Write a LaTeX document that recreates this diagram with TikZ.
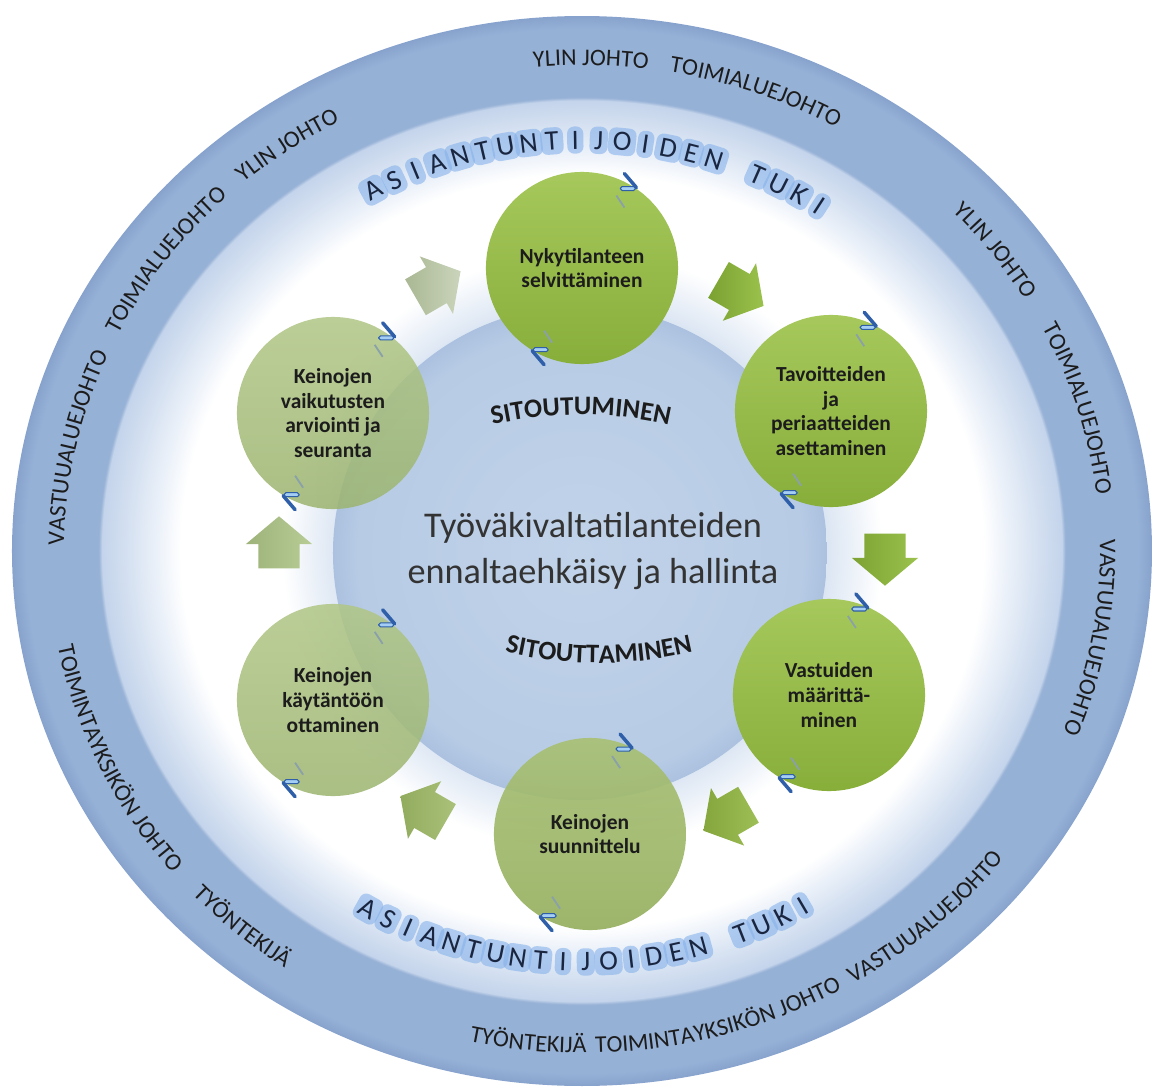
\documentclass[tikz,border=0pt]{standalone}
\usepackage{fontspec}
\setmainfont{Carlito}
\usetikzlibrary{shapes.arrows,decorations.text}

\definecolor{ringblue}{HTML}{96B1D6}
\definecolor{ringedge}{HTML}{87A3CD}
\definecolor{bandlight}{HTML}{C4D4EB}
\definecolor{bandmid}{HTML}{D8E3F2}
\definecolor{bandpale}{HTML}{EEF3FA}
\definecolor{halo}{HTML}{DCE6F3}
\definecolor{discin}{HTML}{C1D3E9}
\definecolor{discout}{HTML}{B7CBE5}
\definecolor{discrim}{HTML}{ABC1DF}
\definecolor{leafhi}{HTML}{A6C85C}
\definecolor{leaflo}{HTML}{88AE3A}
\definecolor{midhi}{HTML}{A8C072}
\definecolor{midlo}{HTML}{93AE5C}
\definecolor{fadehi}{HTML}{B0C685}
\definecolor{fadelo}{HTML}{9CB46F}
\definecolor{darktext}{HTML}{1C1C1C}
\definecolor{tukitext}{HTML}{1A2640}
\definecolor{tukiglow}{HTML}{86B1EA}
\definecolor{handledark}{HTML}{2F5FA8}
\definecolor{handlelight}{HTML}{A4CEF4}
\definecolor{handlegray}{HTML}{8AA0AA}
\definecolor{arrowahi}{HTML}{CAD4BB}
\definecolor{arrowalo}{HTML}{AAB894}
\definecolor{arrowbhi}{HTML}{9AC24C}
\definecolor{arrowblo}{HTML}{7BA131}
\definecolor{arrowchi}{HTML}{9AC24C}
\definecolor{arrowclo}{HTML}{7DA233}
\definecolor{arrowdhi}{HTML}{9EBE56}
\definecolor{arrowdlo}{HTML}{84A63C}
\definecolor{arrowehi}{HTML}{AAC179}
\definecolor{arrowelo}{HTML}{92AC5E}
\definecolor{arrowfhi}{HTML}{B8CC95}
\definecolor{arrowflo}{HTML}{9DB37A}

\newcommand\ringfont{\fontsize{6.8pt}{8pt}\selectfont}
\newcommand\stepfont{\fontsize{6.1pt}{7pt}\selectfont\bfseries}
\newcommand\tukifont{\fontsize{8pt}{9pt}\selectfont}
\newcommand\sitfont{\fontsize{7.6pt}{9pt}\selectfont\bfseries}

\pgfdeclareradialshading{ringshade}{\pgfpoint{0bp}{0bp}}{color(0bp)=(white); color(17.6bp)=(white); color(18.5bp)=(bandpale); color(19.75bp)=(bandmid); color(21.05bp)=(bandlight); color(21.2bp)=(ringblue); color(24.4bp)=(ringblue); color(25bp)=(ringedge); color(50bp)=(ringedge)}
\pgfdeclareradialshading{haloshade}{\pgfpoint{0bp}{0bp}}{color(0bp)=(halo); color(20.5bp)=(halo); color(25bp)=(white); color(50bp)=(white)}
\pgfdeclareradialshading{discshade}{\pgfpoint{0bp}{0bp}}{color(0bp)=(discin); color(22.5bp)=(discout); color(25bp)=(discrim); color(50bp)=(discrim)}

\tikzset{
  stepcircle/.style={circle, minimum size=1.92cm, inner sep=0pt, align=center,
    font=\stepfont, text=darktext, top color=leafhi, bottom color=leaflo},
  fadedcircle/.style={stepcircle, top color=fadehi, bottom color=fadelo,
    fill opacity=0.85, text opacity=1},
  cyclearrow/.style={single arrow, single arrow head extend=0.125cm,
    single arrow tip angle=100, minimum height=0.52cm, inner xsep=0pt, inner ysep=0.2cm},
  tukiletter/.style={font=\tukifont, text=tukitext, fill=tukiglow, fill opacity=0.6,
    text opacity=1, rounded corners=2pt, inner sep=1.3pt},
  ringlabel/.style={decorate, decoration={text along path, text align=center,
    text color=darktext, text={|\ringfont|#1}}},
  archead/.style={decorate, decoration={text along path, text align=center,
    text color=darktext, text={|\sitfont|#1}}},
  pics/rothandle/.style={code={
    \draw[handlegray, line width=0.5pt] (-11,-13) -- (-3,-25);
    \draw[handledark, line width=1pt, line cap=round] (-3,9) -- (9,-5);
    \draw[handledark, fill=handlelight, line width=0.3pt, rounded corners=0.5pt] (-7,-8) rectangle (8,-4);
  }}
}

\begin{document}
\begin{tikzpicture}[x=0.01cm, y=0.01cm]
    \useasboundingbox (-582,-539) rectangle (577,551);

    \shade[shading=ringshade] (0,0) ellipse[x radius=570, y radius=535];
    \shade[shading=haloshade] (0,0) circle[radius=300];
    \shade[shading=discshade] (-2,-2) circle[radius=247];

    \node[stepcircle] (nyky) at (0,283) {Nykytilanteen\\selvittäminen};
    \node[stepcircle] (tavo) at (249,140) {Tavoitteiden\\ja\\periaatteiden\\asettaminen};
    \node[stepcircle] (vast) at (247,-144) {Vastuiden\\määrittä-\\minen};
    \node[stepcircle, top color=midhi, bottom color=midlo, fill opacity=0.9, text opacity=1] (suun) at (8,-283) {Keinojen\\suunnittelu};
    \node[fadedcircle] (kayt) at (-249,-149) {Keinojen\\käytäntöön\\ottaminen};
    \node[fadedcircle] (arvi) at (-249,138) {Keinojen\\vaikutusten\\arviointi ja\\seuranta};

    \foreach \a/\hi/\lo [count=\i] in {120/arrowahi/arrowalo, 60/arrowbhi/arrowblo, 0/arrowchi/arrowclo,
        -60/arrowdhi/arrowdlo, -120/arrowehi/arrowelo, 180/arrowfhi/arrowflo} {
        \node[cyclearrow, left color=\lo, right color=\hi, rotate=\a-90] (arrow\i) at (\a:303) {};
    }

    \foreach \nd/\ang in {nyky/62, tavo/68, vast/72, suun/70, kayt/57, arvi/57} {
        \pic at (\nd.\ang) {rothandle};
        \pic[rotate=180] at (\nd.245) {rothandle};
    }

    \node[font=\fontsize{10.3pt}{12.9pt}\selectfont, text=darktext!90, align=center] (theme) at (11,0)
        {Työväkivaltatilanteiden\\ennaltaehkäisy ja hallinta};
    \path[archead=SITOUTUMINEN] ([shift={(-1,-264)}]110:400) arc[start angle=110, end angle=70, radius=400];
    \path[archead=SITOUTTAMINEN] ([shift={(17,288)}]250:400) arc[start angle=250, end angle=290, radius=400];

    \foreach \ch [count=\i] in {A,S,I,A,N,T,U,N,T,I,J,O,I,D,E,N,T,U,K,I} {
        \pgfmathsetmacro\slot{\i>16 ? \i : \i-1}
        \pgfmathsetmacro\t{118.6-\slot*3.08}
        \pgfmathsetmacro\b{-119.4+\slot*2.99}
        \node[tukiletter, rotate=\t-90] (tukitop\i) at (\t:436 and 411) {\ch};
        \node[tukiletter, rotate=\b+90] (tukibot\i) at (\b:436 and 411) {\ch};
    }

    \foreach \t/\lbl in {168/VASTUUALUEJOHTO, 144/TOIMIALUEJOHTO, 125/YLIN JOHTO, 89/YLIN JOHTO,
        70/TOIMIALUEJOHTO, 37/YLIN JOHTO, 16.6/TOIMIALUEJOHTO, -10/VASTUUALUEJOHTO} {
        \path[ringlabel/.expanded=\lbl] (\t+40:518 and 486) arc[start angle=\t+40, end angle=\t-40, x radius=518, y radius=486];
    }
    \foreach \t/\lbl in {-155/TOIMINTAYKSIKÖN JOHTO, -131/TYÖNTEKIJÄ, -96/TYÖNTEKIJÄ,
        -74.4/TOIMINTAYKSIKÖN JOHTO, -48/VASTUUALUEJOHTO} {
        \path[ringlabel/.expanded=\lbl] (\t-40:534 and 502) arc[start angle=\t-40, end angle=\t+40, x radius=534, y radius=502];
    }
\end{tikzpicture}
\end{document}
